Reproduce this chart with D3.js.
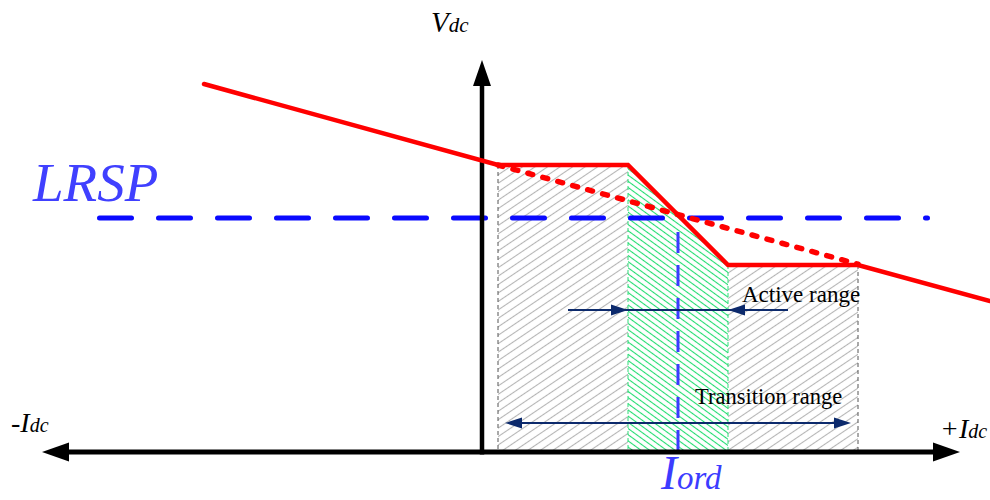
<!DOCTYPE html>
<html>
<head>
<meta charset="utf-8">
<script src="https://cdn.jsdelivr.net/npm/d3@7"></script>
<style>
  html, body { margin: 0; padding: 0; background: #fff; }
  svg { display: block; }
</style>
</head>
<body>
<div id="chart"></div>
<script>
// Voltage–current characteristic (V–I plane), per-unit style values
const charI = [-2.78, 0.16, 1.46, 2.46, 3.76, 5.08];   // breakpoints of the operating curve
const charV = [3.68, 2.87, 2.87, 1.87, 1.87, 1.51];
const droopI = [0.16, 3.76];                         // plain droop line through the flattened zone
const droopV = [2.87, 1.878];
const lrspV = 2.34;                                  // voltage reference level
const lrspSpan = [-3.85, 4.48];
const iord = 1.96;                                   // ordered current
const activeRange = [1.46, 2.46];
const transitionRange = [0.16, 3.76];
const activeArrowV = 1.42, activeArrowSpan = [0.86, 3.06];
const transArrowV = 0.29, transArrowSpan = [0.23, 3.69];
const rangeLabels = ["Active range", "Transition range"];
const axisLabels = { v: ["V", "dc"], neg: ["-I", "dc"], pos: ["+I", "dc"], ref: "LRSP", ord: ["I", "ord"] };

const W = 990, H = 500;
const x = d3.scaleLinear().domain([-4.7, 5.08]).range([12, 990]);
const y = d3.scaleLinear().domain([0, 3.92]).range([452, 60]);

const svg = d3.select("#chart").append("svg").attr("width", W).attr("height", H);
const defs = svg.append("defs");

function hatch(id, color, spacing, angle) {
  const p = defs.append("pattern").attr("id", id)
    .attr("patternUnits", "userSpaceOnUse")
    .attr("width", 20).attr("height", spacing)
    .attr("patternTransform", `rotate(${angle})`);
  p.append("line").attr("x1", 0).attr("x2", 20)
    .attr("y1", spacing / 2).attr("y2", spacing / 2)
    .attr("stroke", color).attr("stroke-width", 1.1);
}
hatch("grayHatch", "#b4b4b4", 7, -34);
hatch("greenHatch", "#22dd70", 5, 36);

const serif = "'Liberation Serif', 'Times New Roman', serif";
const lineGen = d3.line().x(d => x(d[0])).y(d => y(d[1]));

// Hatched zones under the curve
const [t0, t1] = transitionRange, [a0, a1] = activeRange;
const vHigh = charV[1], vLow = charV[3];
svg.append("path").attr("fill", "url(#grayHatch)")
  .attr("d", lineGen([[t0, 0], [t0, vHigh], [a0, vHigh], [a0, 0]]));
svg.append("path").attr("fill", "url(#grayHatch)")
  .attr("d", lineGen([[a1, 0], [a1, vLow], [t1, vLow], [t1, 0]]));
svg.append("path").attr("fill", "url(#greenHatch)")
  .attr("d", lineGen([[a0, 0], [a0, vHigh], [a1, vLow], [a1, 0]]));

// Zone borders
[[t0, vHigh], [t1, vLow]].forEach(([i, v]) => {
  svg.append("line").attr("x1", x(i)).attr("x2", x(i)).attr("y1", y(v)).attr("y2", y(0))
    .attr("stroke", "#555").attr("stroke-width", 1).attr("stroke-dasharray", "4,3");
});
[[a0, vHigh], [a1, vLow]].forEach(([i, v]) => {
  svg.append("line").attr("x1", x(i)).attr("x2", x(i)).attr("y1", y(v)).attr("y2", y(0))
    .attr("stroke", "#2fdc78").attr("stroke-width", 1).attr("stroke-dasharray", "4,3");
});

// Reference level and ordered current
svg.append("line")
  .attr("x1", x(lrspSpan[0]) + 2.5).attr("x2", x(lrspSpan[1]) - 2.5)
  .attr("y1", y(lrspV)).attr("y2", y(lrspV))
  .attr("stroke", "#0a0aff").attr("stroke-width", 5)
  .attr("stroke-linecap", "round").attr("stroke-dasharray", "32,27");
svg.append("line")
  .attr("x1", x(iord)).attr("x2", x(iord)).attr("y1", 232).attr("y2", y(0))
  .attr("stroke", "#3b3bff").attr("stroke-width", 3).attr("stroke-dasharray", "21,12");

// Axes
function head(tx, ty, dir, len, half, color) {
  // dir: unit vector pointing toward the tip
  const [dx, dy] = dir;
  const bx = tx - dx * len, by = ty - dy * len;
  const px = -dy * half, py = dx * half;
  svg.append("path")
    .attr("d", `M${tx},${ty}L${bx + px},${by + py}L${bx - px},${by - py}Z`)
    .attr("fill", color);
}
svg.append("line").attr("x1", 60).attr("x2", 940).attr("y1", y(0)).attr("y2", y(0))
  .attr("stroke", "#000").attr("stroke-width", 5);
head(42, y(0), [-1, 0], 27, 9.5, "#000");
head(960, y(0), [1, 0], 27, 9.5, "#000");
svg.append("line").attr("x1", x(0)).attr("x2", x(0)).attr("y1", y(0) + 2.5).attr("y2", 80)
  .attr("stroke", "#000").attr("stroke-width", 4.5);
head(x(0), 60, [0, -1], 26, 9, "#000");

// Operating curve
svg.append("path")
  .attr("d", lineGen(droopI.map((d, i) => [d, droopV[i]])))
  .attr("fill", "none").attr("stroke", "#ff0000").attr("stroke-width", 5.5)
  .attr("stroke-linecap", "round").attr("stroke-dasharray", "5,10.5");
svg.append("path")
  .attr("d", lineGen(charI.map((d, i) => [d, charV[i]])))
  .attr("fill", "none").attr("stroke", "#ff0000").attr("stroke-width", 4.5)
  .attr("stroke-linejoin", "miter").attr("stroke-linecap", "round");

// Range arrows
const navy = "#0c2a6c";
svg.append("line").attr("x1", x(activeArrowSpan[0])).attr("x2", x(activeArrowSpan[1]))
  .attr("y1", y(activeArrowV)).attr("y2", y(activeArrowV))
  .attr("stroke", navy).attr("stroke-width", 2);
head(x(a0), y(activeArrowV), [1, 0], 17, 5.5, navy);
head(x(a1), y(activeArrowV), [-1, 0], 17, 5.5, navy);
svg.append("line").attr("x1", x(transArrowSpan[0]) + 5).attr("x2", x(transArrowSpan[1]) - 5)
  .attr("y1", y(transArrowV)).attr("y2", y(transArrowV))
  .attr("stroke", navy).attr("stroke-width", 2);
head(x(transArrowSpan[0]), y(transArrowV), [-1, 0], 17, 5.5, navy);
head(x(transArrowSpan[1]), y(transArrowV), [1, 0], 17, 5.5, navy);

svg.append("text").attr("x", 742).attr("y", 302)
  .attr("font-family", serif).attr("font-size", 23).attr("fill", "#000")
  .text(rangeLabels[0]);
svg.append("text").attr("x", 695).attr("y", 404)
  .attr("font-family", serif).attr("font-size", 22.5).attr("fill", "#000")
  .text(rangeLabels[1]);

// Labels with subscripts
function subLabel(px, py, parts, big, small, color) {
  const t = svg.append("text").attr("x", px).attr("y", py)
    .attr("font-family", serif).attr("font-style", "italic").attr("fill", color);
  t.append("tspan").attr("font-size", big).text(parts[0]);
  t.append("tspan").attr("font-size", small).text(parts[1]);
  return t;
}
subLabel(431, 32, axisLabels.v, 29, 21, "#000");
subLabel(11, 432, axisLabels.neg, 28, 20, "#000");
subLabel(940, 438, axisLabels.pos, 28, 20, "#000");
subLabel(661, 489, axisLabels.ord, 48, 33, "#3c3cff");

svg.append("text").attr("x", 33).attr("y", 201)
  .attr("font-family", serif).attr("font-style", "italic").attr("font-size", 55)
  .attr("fill", "#4040ff").text(axisLabels.ref);
</script>
</body>
</html>
